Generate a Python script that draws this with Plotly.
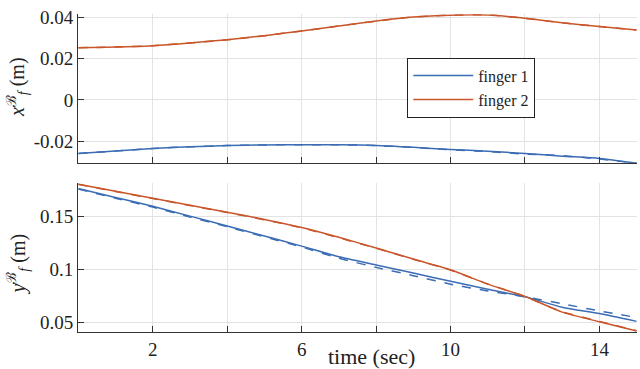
import plotly.graph_objects as go

# time samples (sec)
t = [0, 1, 2, 3, 4, 5, 6, 7, 8, 9, 10, 11, 12, 13, 14, 15]

# x_f^B (m)
x_f1 = [-0.0258, -0.0246, -0.0234, -0.0226, -0.0220, -0.0217, -0.0216, -0.0216,
        -0.0219, -0.0228, -0.0239, -0.0247, -0.0258, -0.0271, -0.0282, -0.0305]
x_f1_ref = [-0.0258, -0.0246, -0.0234, -0.0226, -0.0220, -0.0217, -0.0216, -0.0216,
            -0.0220, -0.0229, -0.0240, -0.0249, -0.0261, -0.0268, -0.0285, -0.0304]
x_f2 = [0.0252, 0.0255, 0.0262, 0.0275, 0.0291, 0.0310, 0.0333, 0.0357,
        0.0381, 0.0400, 0.0409, 0.0410, 0.0394, 0.0372, 0.0354, 0.0337]
x_f2_ref = [0.0252, 0.0255, 0.0262, 0.0275, 0.0290, 0.0310, 0.0333, 0.0357,
            0.0380, 0.0400, 0.0409, 0.0410, 0.0394, 0.0372, 0.0354, 0.0337]

# y_f^B (m)
y_f1 = [0.1760, 0.1676, 0.1592, 0.1500, 0.1408, 0.1313, 0.1218, 0.1117,
        0.1041, 0.0964, 0.0888, 0.0812, 0.0741, 0.0643, 0.0583, 0.0510]
y_f1_ref = [0.1754, 0.1669, 0.1585, 0.1492, 0.1400, 0.1305, 0.1210, 0.1104,
            0.1018, 0.0940, 0.0860, 0.0796, 0.0741, 0.0676, 0.0608, 0.0546]
y_f2 = [0.1799, 0.1733, 0.1668, 0.1602, 0.1537, 0.1469, 0.1393, 0.1301,
        0.1200, 0.1096, 0.0995, 0.0860, 0.0745, 0.0597, 0.0506, 0.0420]
y_f2_ref = [0.1799, 0.1731, 0.1666, 0.1600, 0.1534, 0.1466, 0.1390, 0.1296,
            0.1198, 0.1094, 0.0992, 0.0862, 0.0743, 0.0600, 0.0510, 0.0422]

x_ticks = [2, 4, 6, 8, 10, 12, 14]
x_ticktext = ["2", "", "6", "", "10", "", "14"]
top_ticks = [-0.02, 0, 0.02, 0.04]
top_ticktext = ["-0.02", "0", "0.02", "0.04"]
bot_ticks = [0.05, 0.1, 0.15]
bot_ticktext = ["0.05", "0.1", "0.15"]

BLUE = "#3b6cb4"
ORANGE = "#c9562b"
FONT = "'Liberation Serif', 'Times New Roman', serif"

fig = go.Figure()

for xa, ya, series in [
    ("x", "y", [(x_f1_ref, BLUE, "dash", False, "finger 1"),
                (x_f2_ref, ORANGE, "dash", False, "finger 2"),
                (x_f1, BLUE, "solid", True, "finger 1"),
                (x_f2, ORANGE, "solid", True, "finger 2")]),
    ("x2", "y2", [(y_f1_ref, BLUE, "dash", False, "finger 1"),
                  (y_f2_ref, ORANGE, "dash", False, "finger 2"),
                  (y_f1, BLUE, "solid", False, "finger 1"),
                  (y_f2, ORANGE, "solid", False, "finger 2")]),
]:
    for vals, color, dash, show, name in series:
        fig.add_trace(go.Scatter(
            x=t, y=vals, xaxis=xa, yaxis=ya, mode="lines",
            line=dict(color=color, width=1.5, dash=dash, shape="spline", smoothing=0.6),
            name=name, showlegend=show,
        ))

axis_common = dict(
    showline=True, linecolor="#333333", linewidth=1.2,
    ticks="inside", ticklen=6, tickcolor="#333333", tickwidth=1.2,
    showgrid=True, gridcolor="#e3e3e3", gridwidth=1,
    zeroline=False, mirror=False, ticklabeloverflow="allow",
    tickfont=dict(family=FONT, size=19, color="#222222"),
)

fig.update_layout(
    width=640, height=369,
    paper_bgcolor="white", plot_bgcolor="white",
    margin=dict(l=0, r=0, t=0, b=0),
    font=dict(family=FONT, color="#222222"),
    xaxis=dict(**axis_common, domain=[0.1223, 0.9948], range=[0, 15],
               tickvals=x_ticks, showticklabels=False, anchor="y"),
    yaxis=dict(**axis_common, domain=[0.5683, 0.9824], range=[-0.0306, 0.0413],
               tickvals=top_ticks, ticktext=top_ticktext, anchor="x"),
    xaxis2=dict(**axis_common, domain=[0.1223, 0.9948], range=[0, 15],
                tickvals=x_ticks, ticktext=x_ticktext, anchor="y2",
                ticklabelstandoff=0),
    yaxis2=dict(**axis_common, domain=[0.1003, 0.5149], range=[0.0411, 0.1815],
                tickvals=bot_ticks, ticktext=bot_ticktext, anchor="x2"),
    legend=dict(
        x=0.6364, y=0.862, xanchor="left", yanchor="top",
        bgcolor="white", bordercolor="#222222", borderwidth=1,
        font=dict(family=FONT, size=16, color="#222222"),
        tracegroupgap=0, itemwidth=60,
    ),
    annotations=[
        dict(text="<i>x</i><sup>ℬ</sup><sub><i>f</i></sub> (m)", xref="paper", yref="paper",
             x=0.028, y=0.78, xanchor="center", yanchor="middle",
             textangle=-90, showarrow=False,
             font=dict(family=FONT, size=20, color="#222222")),
        dict(text="<i>y</i><sup>ℬ</sup><sub><i>f</i></sub> (m)", xref="paper", yref="paper",
             x=0.028, y=0.29, xanchor="center", yanchor="middle",
             textangle=-90, showarrow=False,
             font=dict(family=FONT, size=20, color="#222222")),
        dict(text="time (sec)", xref="paper", yref="paper",
             x=0.581, y=0.0325, xanchor="center", yanchor="middle", showarrow=False,
             font=dict(family=FONT, size=22, color="#222222")),
    ],
)

fig.write_html("out.html", config={"displayModeBar": False},
               post_script="document.body.style.margin='0';")
